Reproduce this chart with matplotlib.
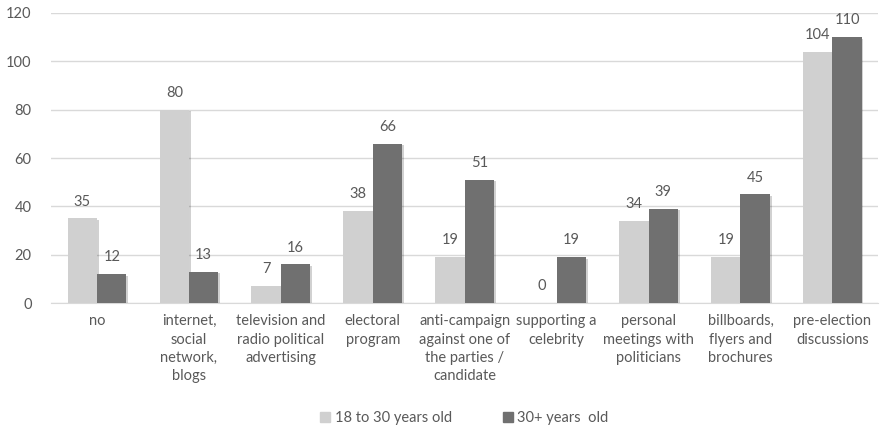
import matplotlib.pyplot as plt
import matplotlib.patheffects as pe
import numpy as np
from matplotlib.patches import Patch

plt.rcParams["font.family"] = ["Lato", "DejaVu Sans"]

categories = [
    "no",
    "internet,\nsocial\nnetwork,\nblogs",
    "television and\nradio political\nadvertising",
    "electoral\nprogram",
    "anti-campaign\nagainst one of\nthe parties /\ncandidate",
    "supporting a\ncelebrity",
    "personal\nmeetings with\npoliticians",
    "billboards,\nflyers and\nbrochures",
    "pre-election\ndiscussions",
]
young = [35, 80, 7, 38, 19, 0, 34, 19, 104]
older = [12, 13, 16, 66, 51, 19, 39, 45, 110]
series_names = ["18 to 30 years old", "30+ years  old"]

light = "#d0d0d0"
dark = "#707070"
text_col = "#595959"
grid_col = "#d9d9d9"

fig = plt.figure(figsize=(8.81, 4.29), dpi=100)
ax = fig.add_axes([0.058, 0.2937, 0.939, 0.676])

x = np.arange(len(categories))
w = 0.32
shadow = [pe.SimplePatchShadow(offset=(1.2, -1.2), shadow_rgbFace="#000000", alpha=0.18), pe.Normal()]
b1 = ax.bar(x - w / 2, young, w, color=light, zorder=3)
b2 = ax.bar(x + w / 2, older, w, color=dark, zorder=3)
for b in list(b1) + list(b2):
    b.set_path_effects(shadow)

for xi, v in zip(x - w / 2, young):
    ax.annotate(str(v), (xi, v), xytext=(0, 7), textcoords="offset points",
                ha="center", va="bottom", fontsize=10.5, color=text_col)
for xi, v in zip(x + w / 2, older):
    ax.annotate(str(v), (xi, v), xytext=(0, 7), textcoords="offset points",
                ha="center", va="bottom", fontsize=10.5, color=text_col)

ax.set_xlim(-0.5, len(categories) - 0.5)
ax.set_ylim(0, 120)
ax.set_yticks(range(0, 121, 20))
ax.set_xticks(x)
ax.set_xticklabels(categories, fontsize=10.5, color=text_col, linespacing=1.4)
ax.tick_params(axis="y", labelsize=10.5, labelcolor=text_col, length=0, pad=14)
ax.tick_params(axis="x", length=0, pad=8)
ax.grid(axis="y", color=grid_col, linewidth=1, zorder=0)
for s in ["top", "right", "left"]:
    ax.spines[s].set_visible(False)
ax.spines["bottom"].set_color(grid_col)

handles = [Patch(color=light), Patch(color=dark)]
fig.legend(handles, series_names, loc="center", bbox_to_anchor=(0.527, 0.026), ncol=2,
           frameon=False, fontsize=10.5, labelcolor=text_col, handlelength=0.7,
           handleheight=0.7, handletextpad=0.3, columnspacing=3.5)

fig.savefig("out.png", dpi=100)
